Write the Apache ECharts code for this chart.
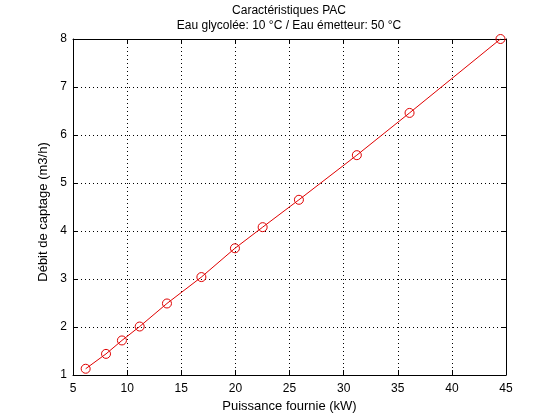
<!DOCTYPE html>
<html><head><meta charset="utf-8">
<script src="https://cdn.jsdelivr.net/npm/echarts@6/dist/echarts.min.js"></script>
<style>html,body{margin:0;padding:0;background:#fff}#c{width:560px;height:420px}</style>
</head><body><div id="c"></div>
<script>
const puissance = [6.17, 8.05, 9.52, 11.16, 13.68, 16.86, 19.96, 22.52, 25.87, 31.22, 36.09, 44.49];
const debit = [1.13, 1.44, 1.72, 2.01, 2.49, 3.04, 3.64, 4.08, 4.65, 5.58, 6.46, 8.0];
const titleLines = ['Caractéristiques PAC', 'Eau glycolée: 10 °C / Eau émetteur: 50 °C'];
const xName = 'Puissance fournie (kW)';
const yName = 'Débit de captage (m3/h)';

const font = 'Liberation Sans, Arial, sans-serif';
const chart = echarts.init(document.getElementById('c'));
const axisBase = {
  axisLine: {show: true, onZero: false, lineStyle: {color: '#000', width: 1}},
  axisTick: {show: true, inside: true, length: 5, lineStyle: {color: '#000'}},
};
chart.setOption({
  animation: false,
  backgroundColor: '#fff',
  title: {
    text: titleLines.join('\n'),
    left: 289, top: 3, padding: 0, textAlign: 'center',
    textStyle: {fontFamily: font, fontSize: 12, fontWeight: 'normal', color: '#000', lineHeight: 15}
  },
  grid: {left: 73, right: 54, top: 39, bottom: 45, containLabel: false},
  xAxis: [
    Object.assign({}, axisBase, {
      type: 'value', min: 5, max: 45, interval: 5, position: 'bottom',
      name: xName, nameLocation: 'middle', nameGap: 20,
      nameTextStyle: {fontFamily: font, fontSize: 13, color: '#000'},
      axisLabel: {fontFamily: font, fontSize: 12, color: '#000', margin: 8},
      splitLine: {show: true, lineStyle: {color: '#000', type: [1, 3], width: 1}}
    }),
    Object.assign({}, axisBase, {
      type: 'value', min: 5, max: 45, interval: 5, position: 'top',
      axisLabel: {show: false}, splitLine: {show: false}
    })
  ],
  yAxis: [
    Object.assign({}, axisBase, {
      type: 'value', min: 1, max: 8, interval: 1, position: 'left',
      name: yName, nameLocation: 'middle', nameGap: 18, nameRotate: 90,
      nameTextStyle: {fontFamily: font, fontSize: 13, color: '#000', padding: [0, 10, 0, 0]},
      axisLabel: {fontFamily: font, fontSize: 12, color: '#000', margin: 6},
      splitLine: {show: true, lineStyle: {color: '#000', type: [1, 3], width: 1}}
    }),
    Object.assign({}, axisBase, {
      type: 'value', min: 1, max: 8, interval: 1, position: 'right',
      axisLabel: {show: false}, splitLine: {show: false}
    })
  ],
  series: [{
    type: 'line',
    data: puissance.map((x, i) => [x, debit[i]]),
    symbol: 'circle', symbolSize: 9, showAllSymbol: true,
    lineStyle: {color: '#e00000', width: 1},
    itemStyle: {color: 'rgba(0,0,0,0)', borderColor: '#e00000', borderWidth: 1},
    emphasis: {disabled: true}
  }]
});
</script></body></html>
